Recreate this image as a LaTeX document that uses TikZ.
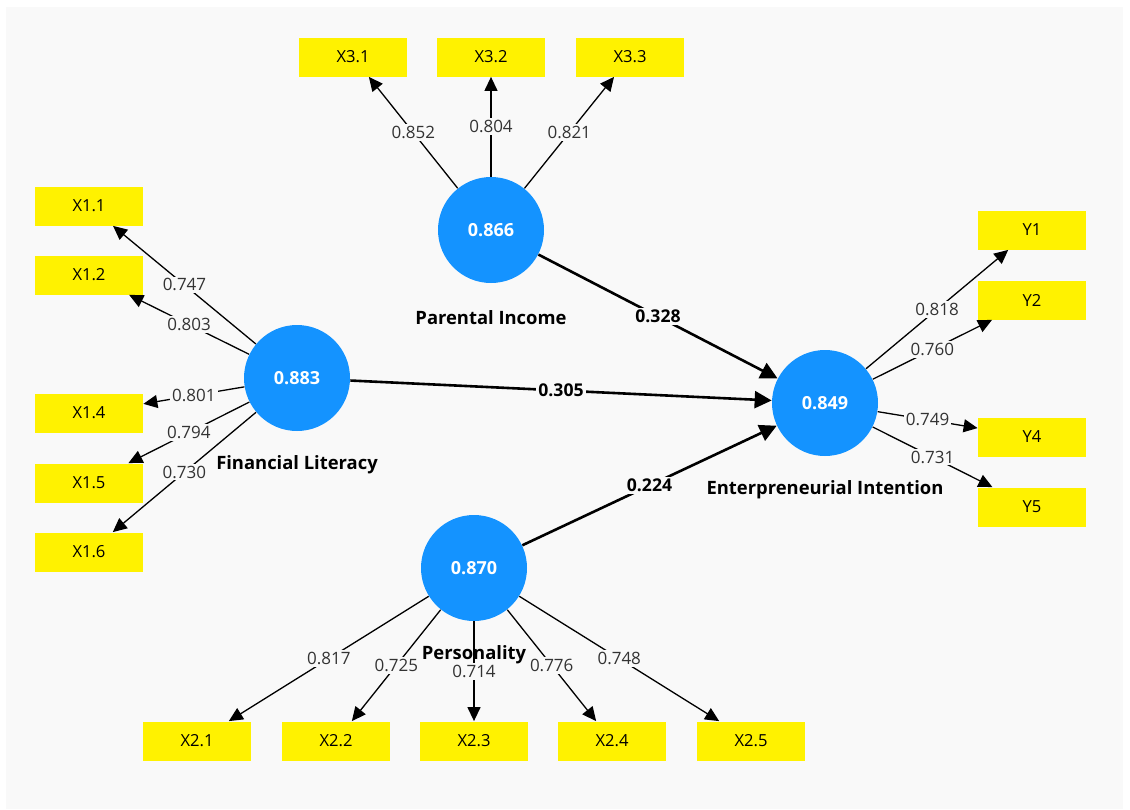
\documentclass[tikz,border=0pt]{standalone}
\usepackage{fontspec}
\setmainfont{Open Sans}
\usetikzlibrary{arrows.meta,positioning}
\definecolor{panel}{HTML}{F9F9F9}
\definecolor{lvblue}{HTML}{1493FF}

\begin{document}
\begin{tikzpicture}[x=0.5pt,y=-0.5pt,
  lv/.style={circle, fill=lvblue, minimum size=53pt, inner sep=0pt, text=white, font=\fontsize{9}{10}\selectfont\bfseries},
  mv/.style={rectangle, fill=yellow, minimum width=54pt, minimum height=19.5pt, inner sep=0pt, font=\fontsize{8.3}{10}\selectfont},
  lvname/.style={font=\fontsize{9.2}{10}\selectfont\bfseries},
  load/.style={-{Triangle[length=7pt,width=6.5pt]}, line width=0.65pt},
  struct/.style={-{Triangle[length=8.5pt,width=8.5pt]}, line width=1.3pt},
  ld/.style={fill=panel, inner sep=1pt, text=black!80, font=\fontsize{8.5}{10}\selectfont},
  pc/.style={fill=panel, inner sep=1pt, font=\fontsize{8.8}{10}\selectfont\bfseries},
]
\useasboundingbox (0,0) rectangle (1130,809);
\fill[white] (0,0) rectangle (1130,809);
\fill[panel] (6,7) rectangle (1123,809);

% latent variables
\node[lv] (pi) at (491,230) {0.866};
\node[lv] (fl) at (297,378) {0.883};
\node[lv] (pe) at (474,568) {0.870};
\node[lv] (ei) at (825,403) {0.849};

\node[lvname] (piname) at (491,318) {Parental Income};
\node[lvname] (flname) at (297,465) {Financial Literacy};
\node[lvname] (pename) at (474,655) {Personality};
\node[lvname] (einame) at (825,490) {Enterpreneurial Intention};

% indicators
\foreach \n/\x in {1/353,2/491,3/630} \node[mv] (x3\n) at (\x,57) {X3.\n};
\foreach \n/\y in {1/206,2/275,4/413,5/483,6/552} \node[mv] (x1\n) at (89,\y) {X1.\n};
\foreach \n/\x in {1/197,2/336,3/474,4/612,5/751} \node[mv] (x2\n) at (\x,741) {X2.\n};
\foreach \n/\y in {1/230,2/300,4/437,5/507} \node[mv] (y\n) at (1032,\y) {Y\n};

% outer loadings
\foreach \n/\v in {1/0.852,2/0.804,3/0.821} \draw[load] (pi) -- node[ld]{\v} (x3\n);
\foreach \n/\v in {1/0.747,2/0.803,4/0.801,5/0.794,6/0.730} \draw[load] (fl) -- node[ld]{\v} (x1\n);
\foreach \n/\v in {1/0.817,2/0.725,3/0.714,4/0.776,5/0.748} \draw[load] (pe) -- node[ld]{\v} (x2\n);
\foreach \n/\v in {1/0.818,2/0.760,4/0.749,5/0.731} \draw[load] (ei) -- node[ld]{\v} (y\n);

% path coefficients
\draw[struct] (pi) -- node[pc]{0.328} (ei);
\draw[struct] (fl) -- node[pc]{0.305} (ei);
\draw[struct] (pe) -- node[pc]{0.224} (ei);
\end{tikzpicture}
\end{document}
